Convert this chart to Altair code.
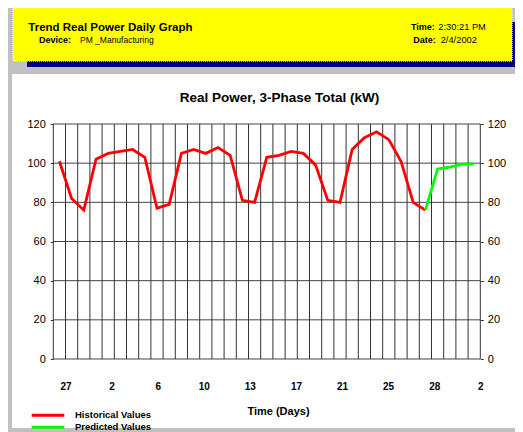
import json
import altair as alt
import pandas as pd

# ---------------- data ----------------
historical = [101, 82, 76, 102, 105, 106, 107, 103, 77, 79, 105, 107, 105, 108, 104, 81, 80,
              103, 104, 106, 105, 99, 81, 80, 107, 113, 116, 112, 101, 80, 76]
predicted = [76, 97, 98, 99.5, 99.6]
day_labels = ["27", "2", "6", "10", "13", "17", "21", "25", "28", "2"]
y_ticks = [0, 20, 40, 60, 80, 100, 120]
n_slots = 35
slot_edges = list(range(n_slots + 1))
label_pos = [1 + (n_slots - 1) / 9 * i for i in range(len(day_labels))]

series_names = ["Historical Values", "Predicted Values"]
series_colors = ["#ff0000", "#00ff00"]

rows = []
for i, v in enumerate(historical):
    rows.append({"slot": i + 0.5, "kw": v, "series": series_names[0]})
start = len(historical) - 1
for j, v in enumerate(predicted):
    rows.append({"slot": start + j + 0.5, "kw": v, "series": series_names[1]})
df = pd.DataFrame(rows)

# ---------------- layout ----------------
FONT = "Liberation Sans"
NARROW = "Liberation Sans Narrow, Arial Narrow, Liberation Sans"
W, H = 427, 235
OX, OY = 53.3, 124.0          # page position of the plot origin
CW, CH = 507, 424             # canvas size
one = pd.DataFrame({"k": [0]})


def rect(x0, y0, x1, y1, **kw):
    return alt.Chart(one).mark_rect(**kw).encode(
        x=alt.value(x0 - OX), x2=alt.value(x1 - OX),
        y=alt.value(y0 - OY), y2=alt.value(y1 - OY))


def text(x, y, s, size, weight="normal", align="left"):
    return alt.Chart(pd.DataFrame({"t": [s]})).mark_text(
        align=align, baseline="alphabetic", font=FONT, fontSize=size,
        fontWeight=weight, color="black").encode(
        x=alt.value(x - OX), y=alt.value(y - OY), text="t:N")


GREY = "#c0c0c0"
frame = [
    rect(8, 8, 515, 74, color=GREY),
    rect(8, 74, 12, 432, color=GREY),
    rect(8, 428, 515, 432, color=GREY),
    rect(27, 22, 518, 67, color="#000080"),
    rect(13, 8, 512, 61, fill="#ffff00", stroke="#f4f4c4", strokeDash=[1, 1], strokeWidth=1.5),
]

texts = [
    text(28.3, 30.7, "Trend Real Power Daily Graph", 11.5, "bold"),
    text(39, 43.3, "Device:", 9, "bold"),
    text(80, 43.3, "PM _Manufacturing", 8.5),
    text(411, 30.3, "Time:", 9, "bold"),
    text(438.3, 30.3, "2:30:21 PM", 9.3),
    text(413.3, 43.3, "Date:", 9, "bold"),
    text(440.7, 43.3, "2/4/2002", 9.3),
    text(279.5, 101.7, "Real Power, 3-Phase Total (kW)", 13.5, "bold", "center"),
]

xs = alt.Scale(domain=[0, n_slots], nice=False, zero=False)
ys = alt.Scale(domain=[0, 120], nice=False, zero=True)

axis_common = dict(values=y_ticks, tickSize=3, tickColor="#333333", domain=False, grid=False,
                   labelFont=FONT, labelFontSize=11, labelColor="black", title=None)

label_expr = f"{json.dumps(day_labels)}[round((datum.value - 1) * 9 / {n_slots - 1})]"
x_axis = alt.Axis(values=label_pos, labelExpr=label_expr, ticks=False, domain=False,
                  grid=False, labelFont=NARROW, labelFontSize=10, labelFontWeight="bold",
                  labelColor="black", labelPadding=22, labelFlush=False,
                  labelOverlap=False,
                  title="Time (Days)", titleFont=FONT, titleFontSize=11,
                  titleFontWeight="bold", titleColor="black", titleX=224.7, titleY=52.7,
                  titleBaseline="middle", titleAlign="center")

hgrid = alt.Chart(pd.DataFrame({"v": y_ticks})).mark_rule(color="#444444", strokeWidth=1).encode(
    y=alt.Y("v:Q", scale=ys,
            axis=alt.Axis(orient="right", labelPadding=4, **axis_common)))

vgrid = alt.Chart(pd.DataFrame({"e": slot_edges})).mark_rule(color="#333333", strokeWidth=1).encode(
    x=alt.X("e:Q", scale=xs, axis=x_axis))

lines = alt.Chart(df).mark_line(strokeWidth=2.8).encode(
    x=alt.X("slot:Q", scale=xs, axis=x_axis),
    y=alt.Y("kw:Q", scale=ys, axis=alt.Axis(orient="left", labelPadding=5, **axis_common)),
    color=alt.Color("series:N",
                    scale=alt.Scale(domain=series_names, range=series_colors),
                    legend=alt.Legend(orient="none", legendX=-10.8, legendY=285.8, title=None,
                                      symbolType="M-4.08,0H4.08", symbolSize=64,
                                      symbolStrokeWidth=3,
                                      labelFont=FONT, labelFontSize=9.5, labelFontWeight="bold",
                                      labelColor="black", labelOffset=21.5, rowPadding=-5,
                                      padding=0, labelLimit=300)),
)

chart = alt.layer(*frame, *texts, hgrid, vgrid, lines).resolve_axis(y="independent").properties(
    width=W, height=H,
    autosize=alt.AutoSizeParams(type="none"),
    padding={"left": OX - 8, "top": OY - 8, "right": CW - (OX - 8) - W, "bottom": CH - (OY - 8) - H},
    background="white",
).configure_view(stroke=None)

chart.save("out.html", embed_options={"renderer": "svg", "actions": False})
